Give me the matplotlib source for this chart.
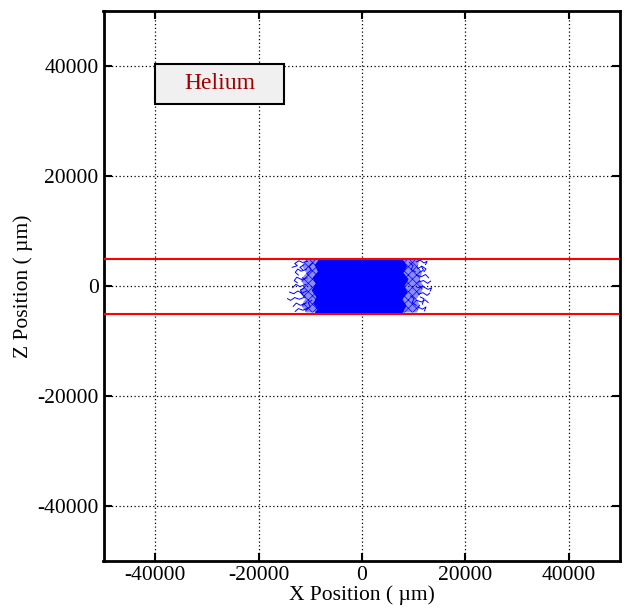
import matplotlib
matplotlib.use('Agg')
import matplotlib.pyplot as plt
from matplotlib.patches import Polygon, Rectangle

plt.rcParams['font.family'] = ['Liberation Serif', 'DejaVu Serif']
plt.rcParams['axes.unicode_minus'] = False
plt.rcParams['hatch.linewidth'] = 0.5

# detector volume boundaries (um)
z_bounds = [5000, -5000]
ticks = [-40000, -20000, 0, 20000, 40000]
gas_label = 'Helium'

# envelope of the dense core of tracks (x, z in um)
core_outline = [(-8200, 4800), (-9000, 3800), (-8400, 2600), (-9400, 1500), (-8800, 400),
                (-9600, -800), (-8700, -2000), (-9300, -3200), (-8400, -4200), (-9000, -4800),
                (7800, -4800), (8500, -3600), (7700, -2400), (8700, -1200), (8100, 0),
                (8900, 1200), (7900, 2400), (8600, 3600), (7800, 4800)]

# envelope of the looser, speckled part of the cloud
mid_outline = [(-10800, 4800), (-11600, 3600), (-10700, 2400), (-11900, 1200), (-11100, 0),
               (-12000, -1200), (-11000, -2400), (-11700, -3600), (-10800, -4800),
               (10600, -4800), (11300, -3600), (10500, -2400), (11500, -1200), (11900, 0),
               (11200, 1200), (11600, 2400), (10800, 3600), (11100, 4800)]

# individual stray tracks at the cloud edges
edge_tracks = [
    [(-10500, 4500), (-11500, 4300), (-12200, 4600), (-13000, 4100), (-12500, 3700), (-13500, 3400)],
    [(-10800, 3000), (-11800, 2700), (-12400, 3100), (-12900, 2500), (-12300, 2000)],
    [(-10600, 1500), (-11700, 1200), (-12600, 1600), (-13100, 1000), (-12500, 600)],
    [(-10900, 300), (-12000, -100), (-12800, 300), (-13400, -300)],
    [(-10700, -900), (-11600, -1300), (-12400, -900), (-13200, -1400), (-14000, -1100)],
    [(-11000, -2000), (-12100, -2400), (-13000, -2100), (-13800, -2600), (-14400, -2300)],
    [(-10800, -3100), (-11900, -3500), (-12700, -3100), (-13300, -3700)],
    [(-10500, -4000), (-11400, -4400), (-12300, -4100), (-12900, -4600)],
    [(-11200, 3900), (-12000, 3400), (-11400, 2900)],
    [(-11300, -400), (-11900, -700), (-11500, -1600)],
    [(-9500, 4200), (-10200, 3600), (-9800, 2900), (-10600, 2300)],
    [(-9700, -2600), (-10400, -3000), (-10000, -3800), (-10900, -4300)],
    [(10500, 4400), (11300, 4700), (12000, 4200), (12600, 4500), (12300, 3900)],
    [(10800, 3200), (11600, 3600), (12400, 3100), (12000, 2600)],
    [(10600, 2000), (11500, 1700), (12300, 2100), (12900, 1500)],
    [(10900, 700), (11900, 1000), (12700, 500), (13300, 900)],
    [(10700, -300), (11800, -100), (12800, -600), (13500, -300), (13200, -900)],
    [(10900, -1500), (11800, -1200), (12600, -1700), (13100, -1300)],
    [(10600, -2600), (11500, -2900), (12200, -2500), (12800, -3000)],
    [(10800, -3800), (11700, -4200), (12400, -3800), (12100, -4500)],
    [(11200, 2500), (11900, 2900), (11500, 3600)],
    [(11300, -2000), (12000, -2300), (11700, -3300)],
    [(9200, 4300), (9900, 3700), (9500, 3000), (10300, 2600)],
    [(9400, -1800), (10100, -2300), (9700, -3000), (10500, -3500)],
]

fig = plt.figure(figsize=(6.25, 6.09), dpi=100)
ax = fig.add_axes([0.1656, 0.0788, 0.827, 0.903])

ax.add_patch(Polygon(mid_outline, closed=True, facecolor=(0, 0, 1, 0.45), edgecolor='blue',
                     linewidth=0, hatch='xxxx', zorder=2))
ax.add_patch(Polygon(core_outline, closed=True, facecolor='blue', edgecolor='blue',
                     linewidth=0.8, zorder=3))
for tr in edge_tracks:
    xs = [p[0] for p in tr]
    zs = [p[1] for p in tr]
    ax.plot(xs, zs, color='blue', lw=0.7, zorder=3)

for zb in z_bounds:
    ax.axhline(zb, color='red', lw=1.5, zorder=4)

ax.set_xlim(-50000, 50000)
ax.set_ylim(-50000, 50000)
ax.set_xticks(ticks)
ax.set_yticks(ticks)
ax.grid(True, color='black', linestyle=(0, (1, 2)), linewidth=0.9, zorder=1)
ax.set_axisbelow(True)
ax.tick_params(direction='in', length=6, width=1.5, top=True, right=True, labelsize=15.5)
for sp in ax.spines.values():
    sp.set_linewidth(2)

ax.set_xlabel('X Position ( µm)', fontsize=15.5, labelpad=0)
ax.set_ylabel('Z Position ( µm)', fontsize=15.5, labelpad=3)

ax.add_patch(Rectangle((-40000, 33100), 25000, 7300, facecolor='#f0f0f0',
                       edgecolor='black', linewidth=1.5, zorder=5))
ax.text(-27500, 36750, gas_label, color='#a00000', fontsize=17,
        ha='center', va='center', zorder=6)

fig.savefig('out.png', dpi=100)
